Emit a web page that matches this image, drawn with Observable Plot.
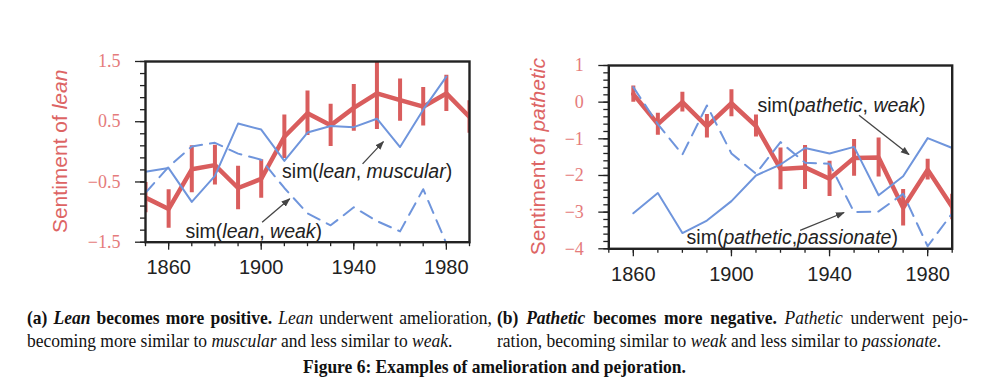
<!DOCTYPE html>
<html><head><meta charset="utf-8">
<script src="https://cdn.jsdelivr.net/npm/d3@7"></script>
<script src="https://cdn.jsdelivr.net/npm/@observablehq/plot@0.6"></script>
<style>
html,body{margin:0;padding:0;background:#fff}
body{width:989px;height:388px;position:relative;overflow:hidden}
.panel{position:absolute}
.cap{position:absolute;font-family:"Liberation Serif","Times New Roman",serif;font-size:19px;color:#111;line-height:22px;white-space:nowrap;transform:scaleX(0.92);transform-origin:0 0}
.just{text-align:justify;text-align-last:justify;white-space:normal}
</style>
</head><body>
<div id="pa" class="panel" style="left:0;top:40px"></div>
<div id="pb" class="panel" style="left:490px;top:40px"></div>
<div class="cap just" style="left:27px;top:307px;width:505.4px"><b>(a) <i>Lean</i> becomes more positive.</b> <i>Lean</i> underwent amelioration,</div>
<div class="cap" style="left:27px;top:330px">becoming more similar to <i>muscular</i> and less similar to <i>weak</i>.</div>
<div class="cap just" style="left:497px;top:307px;width:512px"><b>(b) <i>Pathetic</i> becomes more negative.</b> <i>Pathetic</i> underwent pejo-</div>
<div class="cap" style="left:497px;top:330px">ration, becoming similar to <i>weak</i> and less similar to <i>passionate</i>.</div>
<div class="cap" style="left:0;width:1075px;top:356px;text-align:center"><b>Figure 6: Examples of amelioration and pejoration.</b></div>
<script>
// ---------- data: panel (a) ----------
const yearsA = [1850,1860,1870,1880,1890,1900,1910,1920,1930,1940,1950,1960,1970,1980,1990];
const leanSentiment = [-0.76,-0.95,-0.29,-0.22,-0.60,-0.45,0.25,0.64,0.44,0.73,0.97,0.86,0.75,0.97,0.58];
const leanErr = [0.25,0.32,0.39,0.33,0.36,0.32,0.36,0.37,0.35,0.39,0.60,0.35,0.32,0.30,0.27];
const simLeanMuscular = [-0.33,-0.27,-0.83,-0.40,0.47,0.37,-0.15,0.32,0.43,0.41,0.55,0.08,0.70,1.25,null];
const simLeanWeak = [-0.68,-0.25,0.09,0.15,-0.03,-0.13,-0.60,-1.02,-1.22,-0.92,-1.15,-1.32,-0.62,-1.52,-2.5];

// ---------- data: panel (b) ----------
const yearsB = [1860,1870,1880,1890,1900,1910,1920,1930,1940,1950,1960,1970,1980,1990];
const patheticSentiment = [0.22,-0.60,0.00,-0.66,-0.03,-0.65,-1.82,-1.78,-2.09,-1.52,-1.51,-2.88,-1.84,-2.86];
const patheticErr = [0.22,0.30,0.27,0.32,0.37,0.30,0.57,0.60,0.48,0.50,0.53,0.50,0.28,0.35];
const simPatheticWeak = [-3.03,-2.48,-3.57,-3.23,-2.70,-2.00,-1.70,-1.25,-1.40,-1.22,-2.54,-2.02,-0.98,-1.25];
const simPatheticPassionate = [0.41,-0.60,-1.43,-0.09,-1.40,-1.95,-1.09,-1.65,-1.68,-3.00,-2.98,-2.50,-3.93,-3.03];

// ---------- ticks ----------
const xMajor = [1860,1900,1940,1980];
const xMinor = [1850,1860,1870,1880,1890,1900,1910,1920,1930,1940,1950,1960,1970,1980,1990];
const yMajorA = [1.5,0.5,-0.5,-1.5];
const yMinorA = [-1.5,-1.3,-1.1,-0.9,-0.7,-0.5,-0.3,-0.1,0.1,0.3,0.5,0.7,0.9,1.1,1.3,1.5];
const yMajorB = [1,0,-1,-2,-3,-4];
const yMinorB = [-4,-3.8,-3.6,-3.4,-3.2,-3,-2.8,-2.6,-2.4,-2.2,-2,-1.8,-1.6,-1.4,-1.2,-1,-0.8,-0.6,-0.4,-0.2,0,0.2,0.4,0.6,0.8,1];

// ---------- annotations (data units) ----------
const annotA = [
  {x:1909, y:-0.33, label:"sim(*lean*, *muscular*)"},
  {x:1867.3, y:-1.32, label:"sim(*lean*, *weak*)"}
];
const arrowsA = [
  {x1:1943.8, y1:-0.2, x2:1952.8, y2:0.17},
  {x1:1900.4, y1:-1.17, x2:1912.3, y2:-0.78}
];
const annotB = [
  {x:1910.6, y:-0.11, label:"sim(*pathetic*, *weak*)"},
  {x:1881.7, y:-3.7, label:"sim(*pathetic*,*passionate*)"}
];
const arrowsB = [
  {x1:1952.0, y1:-0.36, x2:1972.4, y2:-1.43},
  {x1:1928, y1:-3.5, x2:1945.9, y2:-3.01}
];

const RED = "#d95d5d", BLUE = "#6f95dc", TICKRED = "#e57b7b", TITLERED = "#dd6464";
const SANS = "'Liberation Sans', Arial, Helvetica, sans-serif";
const SERIF = "'Liberation Serif', 'Times New Roman', serif";
const fmt = d => (d < 0 ? "\u2212" : "") + Math.abs(d);

let panelCount = 0;
function panel(o) {
  const rows = o.years.map((yr, i) => ({
    year: yr, s: o.sent[i], lo: o.sent[i] - o.err[i], hi: o.sent[i] + o.err[i],
    solid: o.solid[i], dash: o.dash[i]
  }));
  const svg = Plot.plot({
    width: o.width, height: o.height,
    marginLeft: o.ml, marginRight: o.mr, marginTop: o.mt, marginBottom: o.mb,
    x: {domain: [1850, 1990]},
    y: {domain: o.yDomain},
    style: {background: "transparent", overflow: "visible", fontFamily: SANS},
    marks: [
      Plot.axisY(o.yMinor, {tickSize: 5, fill: "none", stroke: "#222", strokeWidth: 1.3, label: null}),
      Plot.axisY(o.yMajor, {tickSize: 10, fill: "none", stroke: "#222", strokeWidth: 1.3, label: null}),
      Plot.text(o.yMajor, {y: d => d, frameAnchor: "left", dx: -25, textAnchor: "end", text: fmt,
        fill: TICKRED, fontSize: 18, fontFamily: SERIF}),
      Plot.axisX(xMinor, {tickSize: 4.5, fill: "none", stroke: "#222", strokeWidth: 1.3, label: null}),
      Plot.axisX(xMajor, {tickSize: 8, fill: "none", stroke: "#222", strokeWidth: 1.3, label: null}),
      Plot.text(xMajor, {x: d => d, frameAnchor: "bottom", dy: 32, text: d => String(d),
        fill: "#222", fontSize: 20, fontFamily: SANS}),
      Plot.ruleX(rows, {x: "year", y1: "lo", y2: "hi", stroke: RED, strokeWidth: 4, clip: true}),
      Plot.lineY(rows, {x: "year", y: "s", stroke: RED, strokeWidth: 4.5, strokeLinejoin: "miter", clip: true}),
      Plot.lineY(rows, {x: "year", y: "solid", stroke: BLUE, strokeWidth: 2, clip: true}),
      Plot.lineY(rows, {x: "year", y: "dash", stroke: BLUE, strokeWidth: 2, strokeDasharray: "13,8", clip: true}),
      Plot.link(o.arrows, {x1: "x1", y1: "y1", x2: "x2", y2: "y2", stroke: "#444", strokeWidth: 1.3}),
      Plot.text(o.annot, {x: "x", y: "y", text: "label", textAnchor: "start", fill: "#222",
        fontSize: 19.5, fontFamily: SANS}),
      Plot.frame({stroke: "#222", strokeWidth: 2.4})
    ]
  });
  const root = d3.select(svg);
  // filled arrowheads
  const id = "head" + (panelCount++);
  root.append("defs").append("marker")
    .attr("id", id).attr("viewBox", "0 0 10 10").attr("refX", 9).attr("refY", 5)
    .attr("markerWidth", 9).attr("markerHeight", 9).attr("markerUnits", "userSpaceOnUse")
    .attr("orient", "auto")
    .append("path").attr("d", "M0,1.2L10,5L0,8.8Z").attr("fill", "#444");
  root.selectAll('g[aria-label="link"] path').attr("marker-end", `url(#${id})`);
  // italicise the *marked* words of annotations
  root.selectAll("text").each(function () {
    const t = this.textContent;
    if (t.indexOf("*") < 0) return;
    const sel = d3.select(this);
    sel.text(null);
    t.split("*").forEach((part, i) => {
      if (!part) return;
      sel.append("tspan").attr("font-style", i % 2 ? "italic" : "normal").text(part);
    });
  });
  // rotated y-axis title
  const cy = o.mt + (o.height - o.mt - o.mb) / 2;
  const title = root.append("text")
    .attr("transform", `translate(${o.titleX},${cy}) rotate(-90)`)
    .attr("text-anchor", "middle").attr("fill", TITLERED)
    .attr("font-family", SANS).attr("font-size", 21);
  title.append("tspan").text("Sentiment of ");
  title.append("tspan").attr("font-style", "italic").text(o.word);
  return svg;
}

document.getElementById("pa").appendChild(panel({
  years: yearsA, sent: leanSentiment, err: leanErr, solid: simLeanMuscular, dash: simLeanWeak,
  yDomain: [-1.5, 1.5], yMajor: yMajorA, yMinor: yMinorA,
  width: 490, height: 250, ml: 145, mr: 21, mt: 21, mb: 48.3,
  annot: annotA, arrows: arrowsA, titleX: 66.5, word: "lean"
}));
document.getElementById("pb").appendChild(panel({
  years: yearsB, sent: patheticSentiment, err: patheticErr, solid: simPatheticWeak, dash: simPatheticPassionate,
  yDomain: [-4, 1], yMajor: yMajorB, yMinor: yMinorB,
  width: 499, height: 250, ml: 118.3, mr: 37.3, mt: 25, mb: 41.7,
  annot: annotB, arrows: arrowsB, titleX: 55, word: "pathetic"
}));
</script>
</body></html>
